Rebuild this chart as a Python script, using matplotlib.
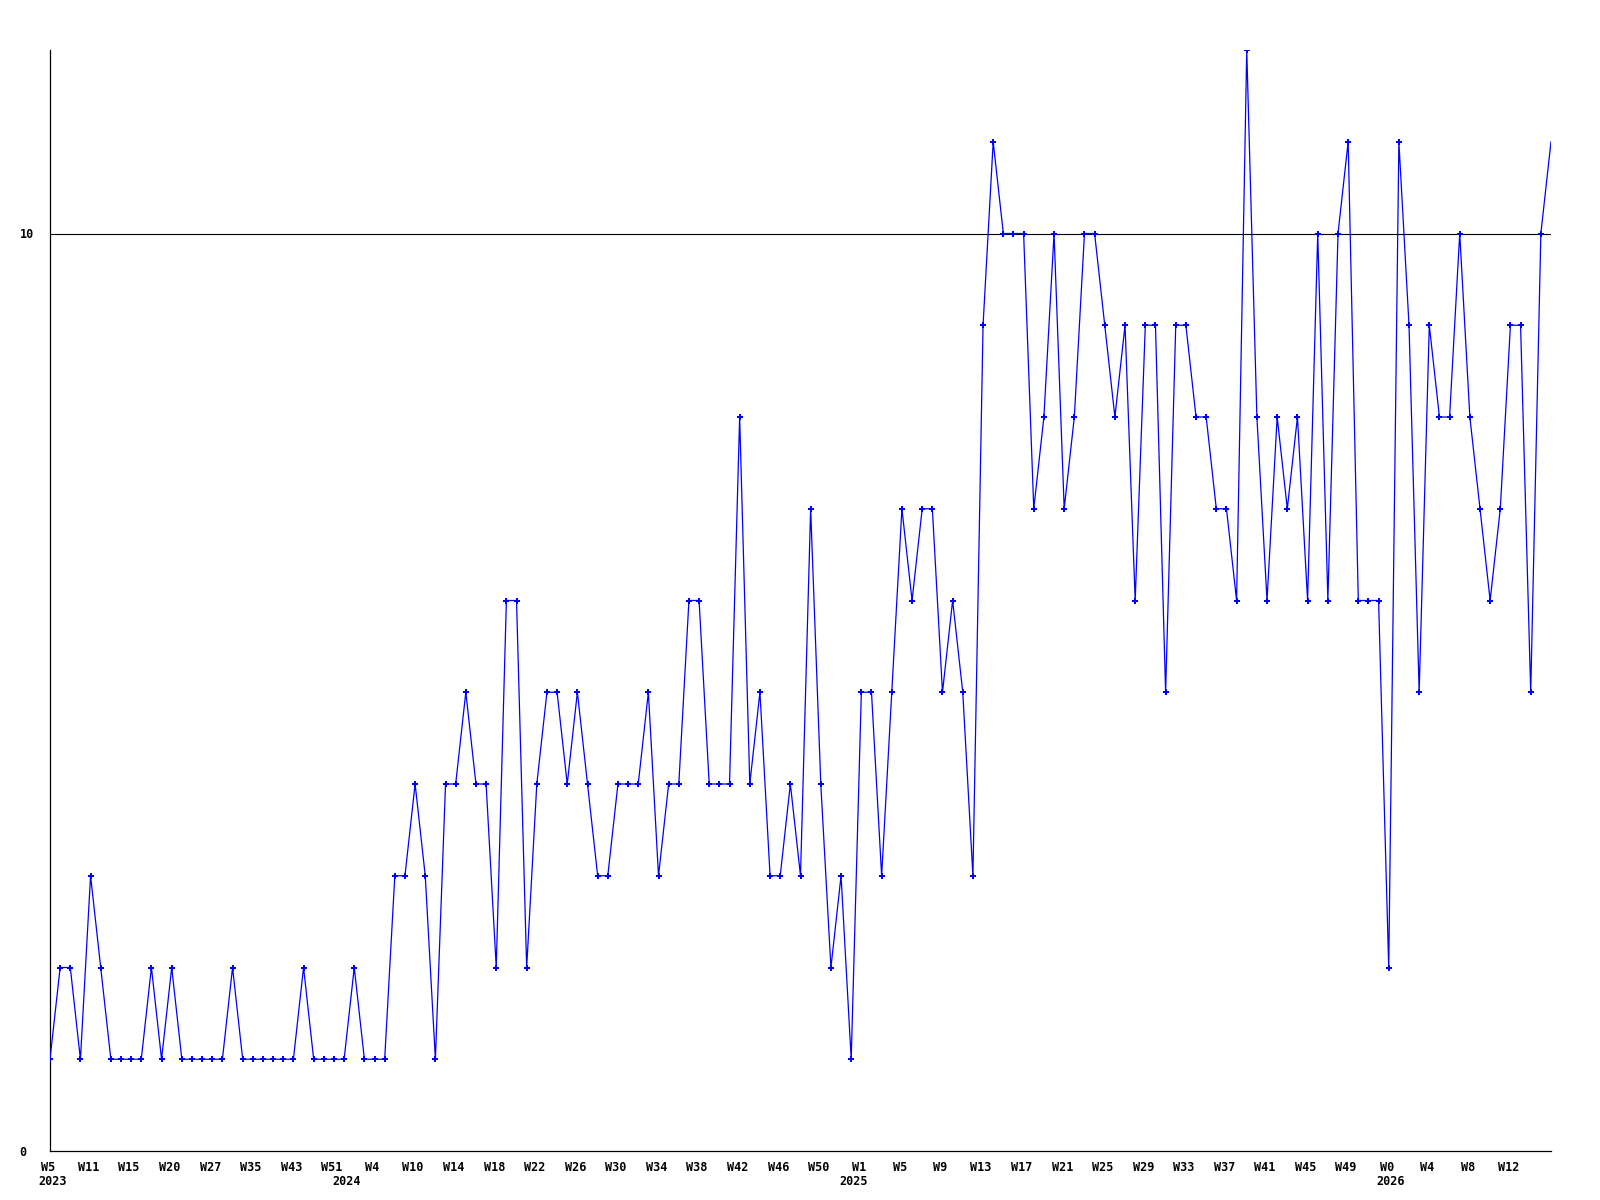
import matplotlib
matplotlib.use("Agg")
import matplotlib.pyplot as plt
from matplotlib.transforms import ScaledTranslation

# weekly counts, one per point
values = [
    1, 2, 2, 1, 3, 2, 1, 1, 1, 1,
    2, 1, 2, 1, 1, 1, 1, 1, 2, 1,
    1, 1, 1, 1, 1, 2, 1, 1, 1, 1,
    2, 1, 1, 1, 3, 3, 4, 3, 1, 4,
    4, 5, 4, 4, 2, 6, 6, 2, 4, 5,
    5, 4, 5, 4, 3, 3, 4, 4, 4, 5,
    3, 4, 4, 6, 6, 4, 4, 4, 8, 4,
    5, 3, 3, 4, 3, 7, 4, 2, 3, 1,
    5, 5, 3, 5, 7, 6, 7, 7, 5, 6,
    5, 3, 9, 11, 10, 10, 10, 7, 8, 10,
    7, 8, 10, 10, 9, 8, 9, 6, 9, 9,
    5, 9, 9, 8, 8, 7, 7, 6, 12, 8,
    6, 8, 7, 8, 6, 10, 6, 10, 11, 6,
    6, 6, 2, 11, 9, 5, 9, 8, 8, 10,
    8, 7, 6, 7, 9, 9, 5, 10, 11,
]

# a week label every 4th point
week_labels = [
    "W5", "W11", "W15", "W20", "W27", "W35", "W43", "W51",
    "W4", "W10", "W14", "W18", "W22", "W26", "W30", "W34", "W38", "W42", "W46", "W50",
    "W1", "W5", "W9", "W13", "W17", "W21", "W25", "W29", "W33", "W37", "W41", "W45", "W49",
    "W0", "W4", "W8", "W12",
]
years = ["2023", "2024", "2025", "2026"]
year_pos = [0.3, 29.2, 79.2, 132.2]

ref_level = 10

fig = plt.figure(figsize=(16, 12), dpi=100)
ax = fig.add_axes([50 / 1600, 1 - 1151 / 1200, 1501 / 1600, 1101 / 1200])

x = list(range(len(values)))
ax.plot(x, values, color="#0000ff", linewidth=0.9, zorder=3)
# last point sits on the frame edge and shows no marker
ax.plot(x[:-1], values[:-1], color="#0000ff", linestyle="none", marker="P",
        markersize=4, markeredgewidth=0, zorder=3)
ax.axhline(ref_level, color="black", linewidth=0.8, zorder=2)

ax.set_xlim(0, len(values) - 1)
ax.set_ylim(0, 12)

for side in ("top", "right"):
    ax.spines[side].set_visible(False)
for side in ("left", "bottom"):
    ax.spines[side].set_linewidth(0.9)

font = dict(family="DejaVu Sans Mono", weight="bold", size=8.5)

ax.set_yticks([0, 10])
ax.set_yticklabels(["0", "10"], ha="left", **font)
ax.tick_params(axis="y", length=0, pad=22)

ax.set_xticks(range(0, 4 * len(week_labels), 4))
ax.set_xticklabels(week_labels, **font)
ax.tick_params(axis="x", length=0, pad=7)
shift = ScaledTranslation(-2 / 100, 0, fig.dpi_scale_trans)
for lab in ax.get_xticklabels():
    lab.set_transform(lab.get_transform() + shift)

for yr, pos in zip(years, year_pos):
    ax.annotate(yr, xy=(pos, 0), xycoords=("data", "axes fraction"),
                xytext=(0, -24), textcoords="offset pixels",
                ha="center", va="top", **font)

fig.savefig("out.png", dpi=100)
